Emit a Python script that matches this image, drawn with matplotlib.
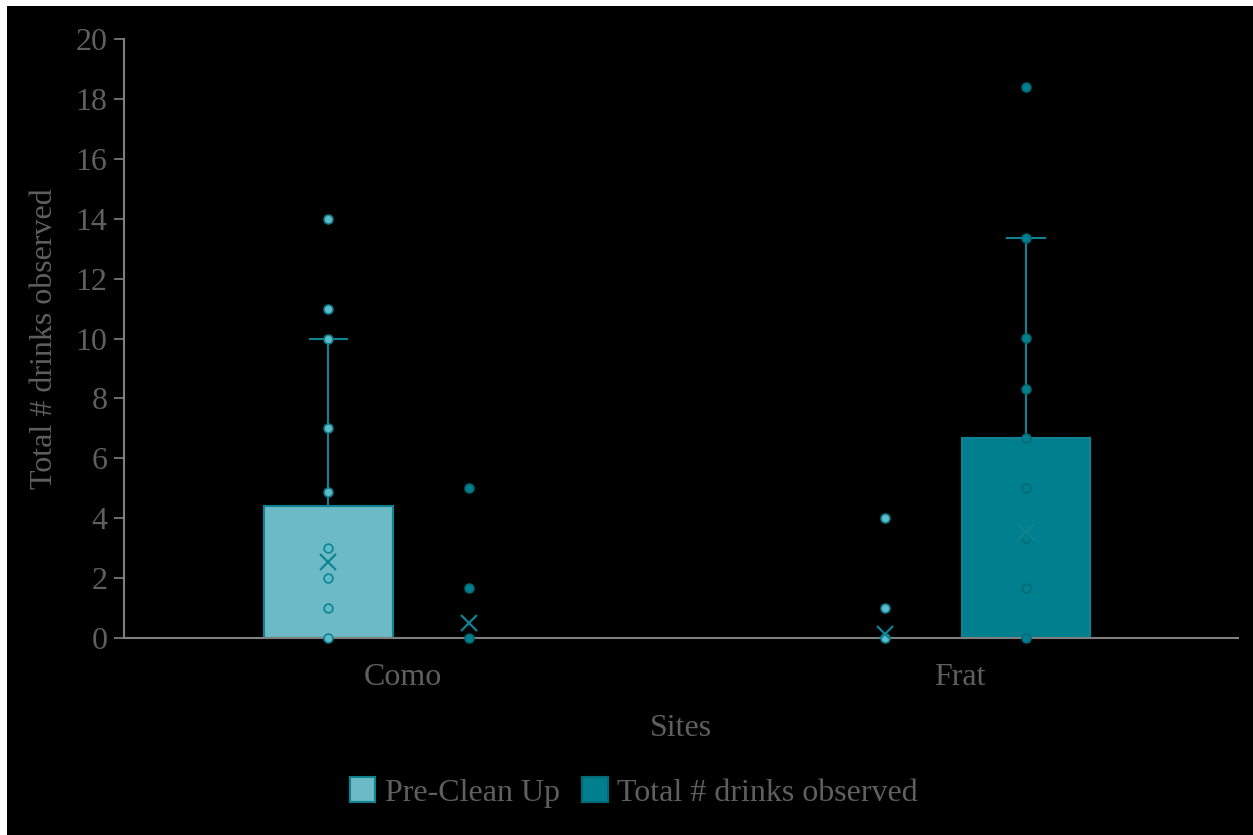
import matplotlib.pyplot as plt
from matplotlib.patches import Rectangle, Patch
import numpy as np

plt.rcParams['font.family'] = ['Liberation Serif', 'DejaVu Serif']

# Sitios y series
sites = ["Como", "Frat"]
series = ["Pre-Clean Up", "Total # drinks observed"]

# Observaciones por sitio (valores individuales)
pre_points = [[0, 1, 2, 3, 4.87, 7, 10, 11, 14], [0, 1, 4]]
total_points = [[0, 1.67, 5], [0, 1.67, 3.33, 5, 6.67, 8.33, 10.03, 13.37, 18.4]]

# Resumen de las cajas: Q1, Q3, bigote superior, media
pre_q1 = [0, 0]
pre_q3 = [4.4, 0]
pre_whisker = [10, 0]
pre_mean = [2.55, 0.15]

total_q1 = [0, 0]
total_q3 = [0, 6.69]
total_whisker = [0, 13.37]
total_mean = [0.5, 3.55]

text_gray = "#5f5f5f"
axis_gray = "#7f7f7f"
pre_fill = "#6bbac6"
total_fill = "#007f8e"
edge_teal = "#0f8392"

fig = plt.figure(figsize=(12.53, 8.35), dpi=100, facecolor="white")
# fondo negro con un pequeño borde blanco arriba y a la izquierda
fig.patches.append(Rectangle((7 / 1253, 0), 1, 1 - 6 / 835, transform=fig.transFigure,
                             facecolor="black", edgecolor="none", zorder=-10))

ax = fig.add_axes([0.099, 0.2359, 0.889, 0.7174])
ax.set_facecolor("black")

centers = np.array([0.5, 1.5])
off_pre = -0.133
off_total = 0.12
box_w = 0.23
cap_w = 0.068

groups = [
    (off_pre, pre_points, pre_q1, pre_q3, pre_whisker, pre_mean, pre_fill, "#5fbccb", edge_teal),
    (off_total, total_points, total_q1, total_q3, total_whisker, total_mean, total_fill, total_fill, "#006b78"),
]

for off, pts, q1, q3, wh, mean, fill, mface, medge in groups:
    xs = centers + off
    for i, x in enumerate(xs):
        if q3[i] > q1[i]:
            ax.bar(x, q3[i] - q1[i], bottom=q1[i], width=box_w, color=fill,
                   edgecolor=edge_teal, linewidth=1.5, zorder=2)
        if wh[i] > q3[i]:
            ax.plot([x, x], [q3[i], wh[i]], color=edge_teal, lw=1.5, zorder=3)
            ax.plot([x - cap_w / 2, x + cap_w / 2], [wh[i], wh[i]], color=edge_teal, lw=1.5, zorder=3)
        ax.scatter(np.full(len(pts[i]), x), pts[i], s=40, facecolor=mface,
                   edgecolor=medge, linewidth=1.2, zorder=4, clip_on=False)
        ax.plot(x, mean[i], marker="x", markersize=12, mew=1.6, color=edge_teal, zorder=5)

ax.set_xlim(0, 2)
ax.set_ylim(0, 20)
ax.set_yticks(np.arange(0, 21, 2))
ax.set_xticks(centers)
ax.set_xticklabels(sites)

for s in ["top", "right"]:
    ax.spines[s].set_visible(False)
ax.spines["left"].set_color(axis_gray)
ax.spines["bottom"].set_color(axis_gray)
ax.spines["left"].set_linewidth(1.5)
ax.spines["bottom"].set_linewidth(1.5)

ax.tick_params(axis="y", colors=text_gray, labelsize=23, length=7, width=1.2,
               direction="out", pad=5)
ax.tick_params(axis="y", color=axis_gray)
ax.tick_params(axis="x", colors=text_gray, labelsize=23, length=0, pad=18)

ax.set_ylabel("Total # drinks observed", color=text_gray, fontsize=23, labelpad=12)
ax.set_xlabel("Sites", color=text_gray, fontsize=23, labelpad=16)

handles = [Patch(facecolor=pre_fill, edgecolor=edge_teal, linewidth=1.5),
           Patch(facecolor=total_fill, edgecolor="#006b78", linewidth=1.5)]
fig.legend(handles, series, loc="center", bbox_to_anchor=(0.506, 0.051), ncol=2,
           frameon=False, fontsize=23, labelcolor=text_gray, handlelength=0.8,
           handleheight=0.8, handletextpad=0.3, columnspacing=0.7)

fig.savefig("out.png", dpi=100, facecolor=fig.get_facecolor())
